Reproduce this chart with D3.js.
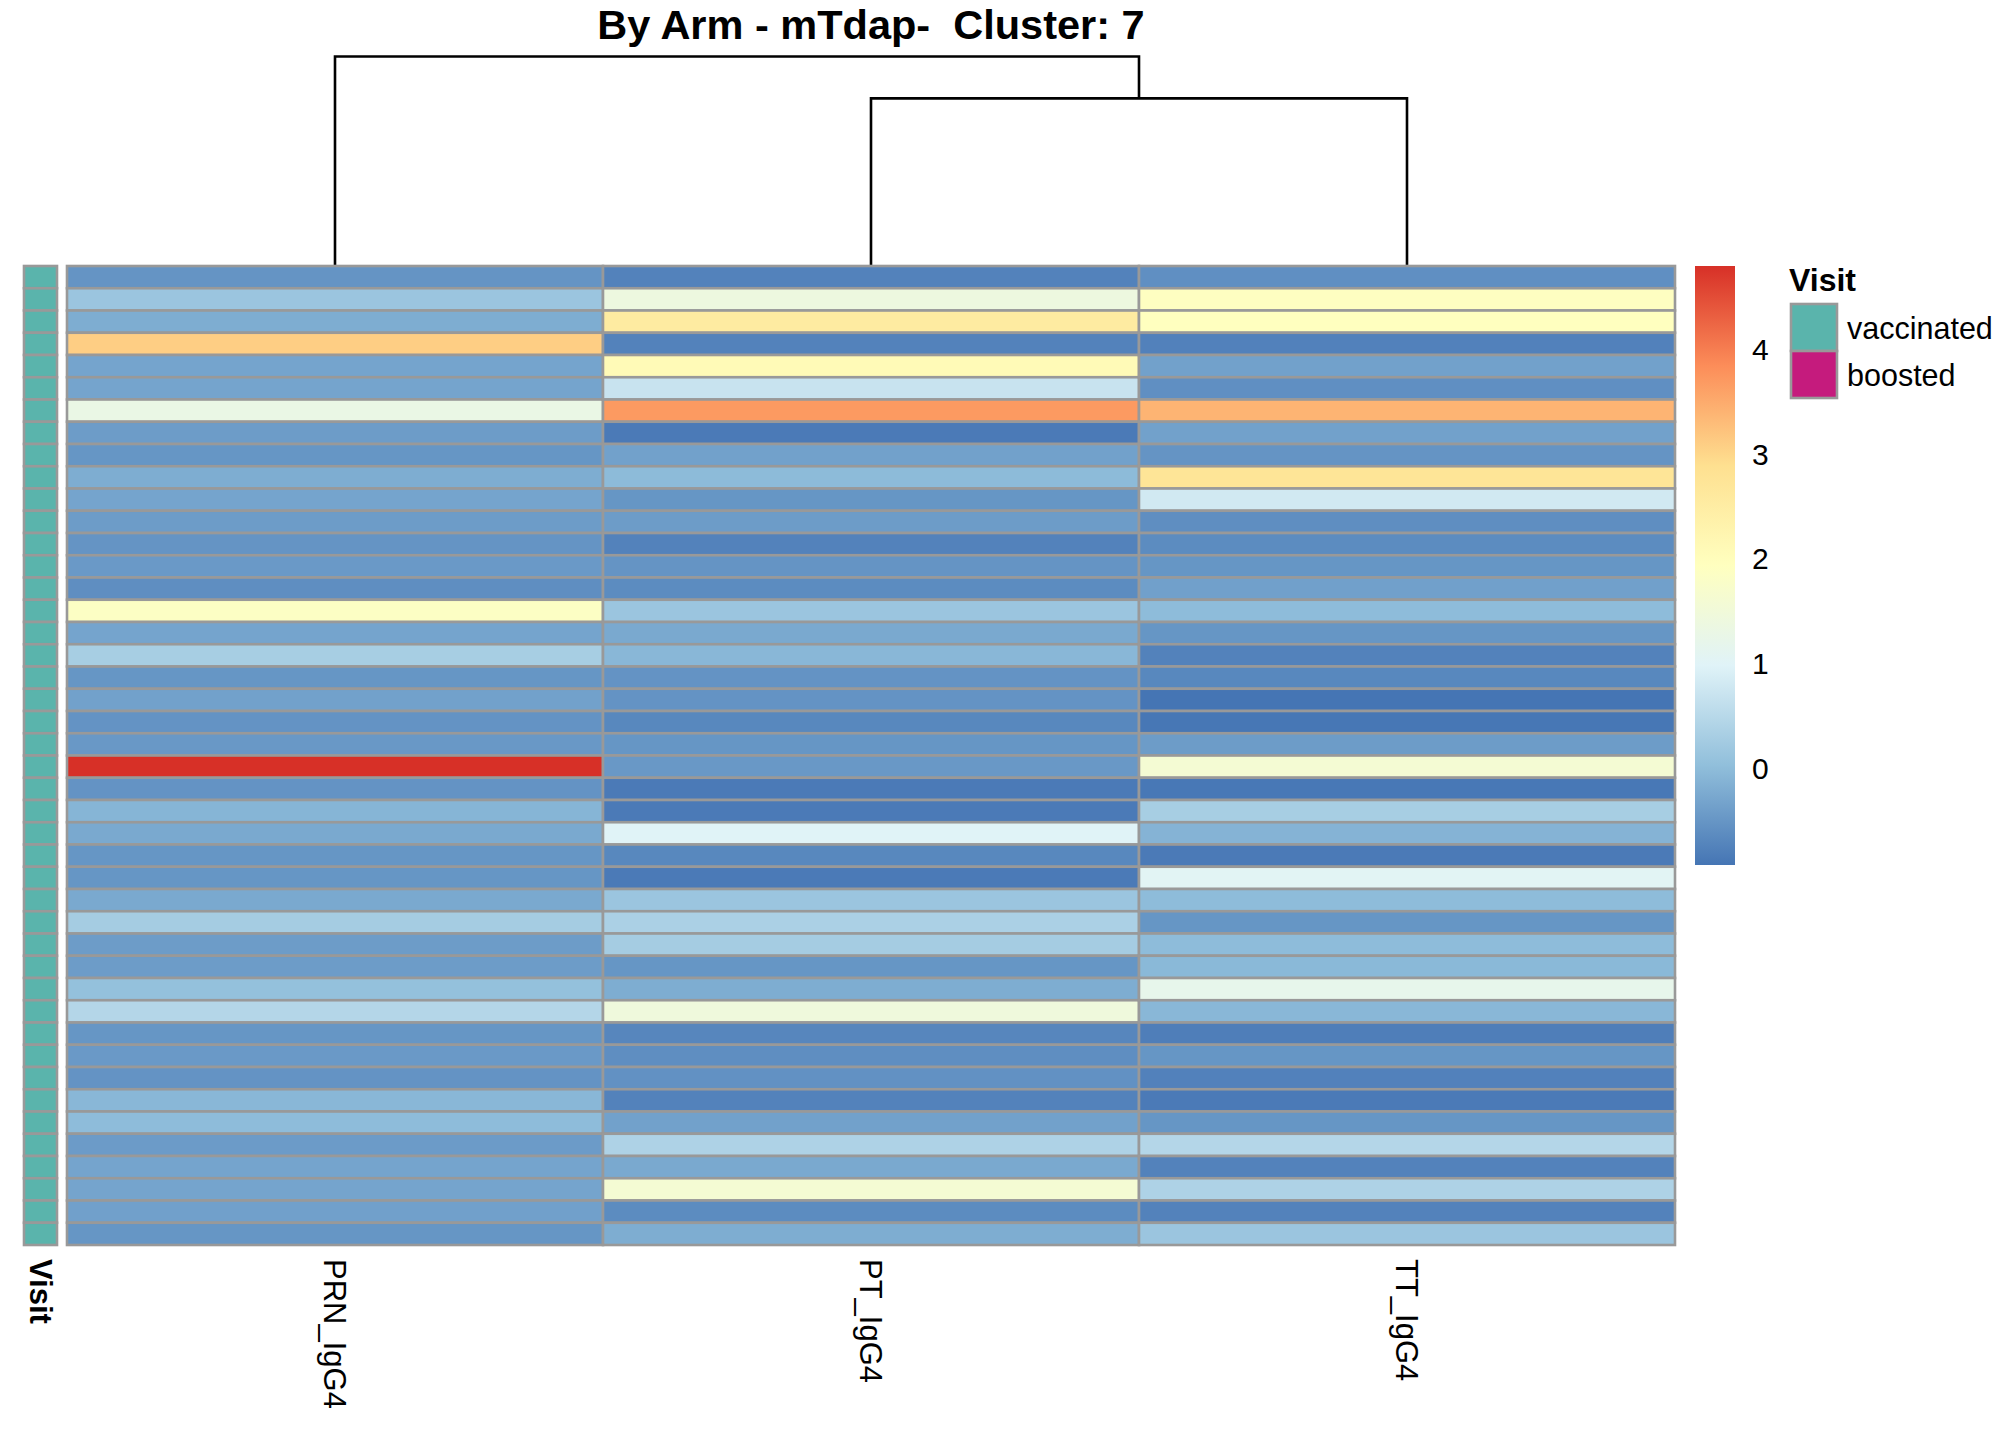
<!DOCTYPE html>
<html>
<head>
<meta charset="utf-8">
<script src="https://cdn.jsdelivr.net/npm/d3@7"></script>
<style>
  body { margin: 0; background: #fff; }
  text { font-family: "Liberation Sans", Arial, sans-serif; fill: #000; }
</style>
</head>
<body>
<svg id="chart" width="2016" height="1440"></svg>
<script>
// values, one array per column, top row first
var columns = ["PRN_IgG4", "PT_IgG4", "TT_IgG4"];
var prn = [-0.52, 0.15, -0.2, 3.1, -0.32, -0.32, 1.3, -0.42, -0.5, -0.2, -0.32,
           -0.42, -0.52, -0.45, -0.6, 1.85, -0.32, 0.3, -0.5, -0.35, -0.53, -0.47,
           4.8, -0.53, -0.1, -0.25, -0.5, -0.5, -0.25, 0.27, -0.42, -0.42, 0.07,
           0.45, -0.5, -0.45, -0.53, -0.07, 0.0, -0.43, -0.32, -0.32, -0.37, -0.5];
var pt  = [-0.75, 1.4, 2.55, -0.75, 2.1, 0.7, 3.7, -0.85, -0.35, -0.02, -0.5,
           -0.42, -0.75, -0.52, -0.63, 0.15, -0.25, -0.07, -0.53, -0.53, -0.68, -0.5,
           -0.47, -0.85, -0.85, 1.0, -0.68, -0.85, 0.15, 0.35, 0.27, -0.5, -0.2,
           1.45, -0.7, -0.6, -0.56, -0.75, -0.35, 0.38, -0.25, 1.6, -0.63, -0.2];
var tt  = [-0.58, 1.9, 1.95, -0.76, -0.35, -0.58, 3.4, -0.35, -0.52, 2.75, 0.8,
           -0.6, -0.63, -0.5, -0.37, 0.0, -0.5, -0.75, -0.68, -0.92, -0.9, -0.42,
           1.6, -0.88, 0.3, -0.12, -0.85, 1.05, 0.0, -0.5, 0.0, -0.05, 1.2,
           -0.07, -0.8, -0.5, -0.76, -0.85, -0.5, 0.45, -0.75, 0.38, -0.75, 0.15];
var visit = ["vaccinated","vaccinated","vaccinated","vaccinated","vaccinated","vaccinated",
             "vaccinated","vaccinated","vaccinated","vaccinated","vaccinated","vaccinated",
             "vaccinated","vaccinated","vaccinated","vaccinated","vaccinated","vaccinated",
             "vaccinated","vaccinated","vaccinated","vaccinated","vaccinated","vaccinated",
             "vaccinated","vaccinated","vaccinated","vaccinated","vaccinated","vaccinated",
             "vaccinated","vaccinated","vaccinated","vaccinated","vaccinated","vaccinated",
             "vaccinated","vaccinated","vaccinated","vaccinated","vaccinated","vaccinated",
             "vaccinated","vaccinated"];
var visitLevels = ["vaccinated", "boosted"];
var visitColors = ["#5AB4AC", "#C51B7D"];
var legendTicks = [0, 1, 2, 3, 4];
var palette = ["#4575B4", "#91BFDB", "#E0F3F8", "#FFFFBF", "#FEE090", "#FC8D59", "#D73027"];
// column dendrogram: PRN joins the (PT, TT) branch
var mergeHeights = [4.0, 5.0];  // PT+TT, root
var title = "By Arm - mTdap-  Cluster: 7";

var svg = d3.select("#chart");
var series = [prn, pt, tt];
var nRows = prn.length;

// heatmap box (not "top", that one belongs to window)
var hmLeft = 67, hmRight = 1675, hmTop = 266, hmBottom = 1245;

var x = d3.scaleBand().domain(columns).range([hmLeft, hmRight]);
var y = d3.scaleBand().domain(d3.range(nRows)).range([hmTop, hmBottom]);

var vmin = d3.min(series, function(s){ return d3.min(s); });
var vmax = d3.max(series, function(s){ return d3.max(s); });
var color = d3.scaleLinear()
  .domain(palette.map(function(d, i){ return vmin + i * (vmax - vmin) / (palette.length - 1); }))
  .range(palette)
  .interpolate(d3.interpolateRgb);

// title, centred over the heatmap
svg.append("text")
  .attr("x", (hmLeft + hmRight) / 2)
  .attr("y", 39)
  .attr("text-anchor", "middle")
  .style("font-weight", "bold")
  .style("font-size", "41.5px")
  .style("white-space", "pre")
  .text(title);

// dendrogram
var h = d3.scaleLinear().domain([0, 5.0]).range([hmTop, 56.5]);
var cx = function(c){ return x(c) + x.bandwidth() / 2; };
var inner = (cx("PT_IgG4") + cx("TT_IgG4")) / 2;
var tree = [
  [[cx("PT_IgG4"), h(0)], [cx("PT_IgG4"), h(mergeHeights[0])], [cx("TT_IgG4"), h(mergeHeights[0])], [cx("TT_IgG4"), h(0)]],
  [[cx("PRN_IgG4"), h(0)], [cx("PRN_IgG4"), h(mergeHeights[1])], [inner, h(mergeHeights[1])], [inner, h(mergeHeights[0])]]
];
svg.append("g").selectAll("path").data(tree).join("path")
  .attr("d", d3.line())
  .attr("fill", "none")
  .attr("stroke", "#000")
  .attr("stroke-width", 2.6);

// heatmap cells
var cells = [];
series.forEach(function(s, j){
  s.forEach(function(v, i){ cells.push({row: i, col: columns[j], v: v}); });
});
svg.append("g").selectAll("rect").data(cells).join("rect")
  .attr("x", function(d){ return x(d.col); })
  .attr("y", function(d){ return y(d.row); })
  .attr("width", x.bandwidth())
  .attr("height", y.bandwidth())
  .attr("fill", function(d){ return color(d.v); })
  .attr("stroke", "#999999")
  .attr("stroke-width", 2.6);

// annotation column
var visitColor = d3.scaleOrdinal().domain(visitLevels).range(visitColors);
svg.append("g").selectAll("rect").data(visit).join("rect")
  .attr("x", 24)
  .attr("y", function(d, i){ return y(i); })
  .attr("width", 33)
  .attr("height", y.bandwidth())
  .attr("fill", function(d){ return visitColor(d); })
  .attr("stroke", "#999999")
  .attr("stroke-width", 2.6);

// column labels, rotated to read downwards
svg.append("g").selectAll("text").data(columns).join("text")
  .attr("transform", function(d){ return "translate(" + cx(d) + ",1259) rotate(90)"; })
  .attr("dy", "0.35em")
  .style("font-size", "31px")
  .text(function(d){ return d; });

svg.append("text")
  .attr("transform", "translate(40.5,1259) rotate(90)")
  .attr("dy", "0.35em")
  .style("font-size", "31px")
  .style("font-weight", "bold")
  .text("Visit");

// colour key
var ky = d3.scaleLinear().domain([vmin, vmax]).range([865, 266]);
var grad = svg.append("defs").append("linearGradient")
  .attr("id", "key").attr("x1", 0).attr("y1", 1).attr("x2", 0).attr("y2", 0);
grad.selectAll("stop").data(color.domain()).join("stop")
  .attr("offset", function(d){ return (d - vmin) / (vmax - vmin); })
  .attr("stop-color", function(d){ return color(d); });
svg.append("rect")
  .attr("x", 1695).attr("y", ky(vmax))
  .attr("width", 40).attr("height", ky(vmin) - ky(vmax))
  .attr("fill", "url(#key)");

var keyAxis = d3.axisRight(ky).tickValues(legendTicks).tickFormat(d3.format("d"))
  .tickSize(0).tickPadding(0);
var ka = svg.append("g").attr("transform", "translate(1752,0)").call(keyAxis);
ka.select(".domain").remove();
ka.selectAll("text")
  .attr("x", 0)
  .style("font-family", "\"Liberation Sans\", Arial, sans-serif")
  .style("font-size", "30px")
  .attr("fill", "#000");

// Visit legend
svg.append("text")
  .attr("x", 1789).attr("y", 291)
  .style("font-weight", "bold")
  .style("font-size", "32px")
  .text("Visit");
var lg = svg.append("g");
lg.selectAll("rect").data(visitLevels).join("rect")
  .attr("x", 1791)
  .attr("y", function(d, i){ return 304 + i * 47; })
  .attr("width", 46).attr("height", 47)
  .attr("fill", function(d){ return visitColor(d); })
  .attr("stroke", "#999999")
  .attr("stroke-width", 2.6);
lg.selectAll("text").data(visitLevels).join("text")
  .attr("x", 1847)
  .attr("y", function(d, i){ return 328 + i * 47; })
  .attr("dy", "0.35em")
  .style("font-size", "30.5px")
  .text(function(d){ return d; });
</script>
</body>
</html>
